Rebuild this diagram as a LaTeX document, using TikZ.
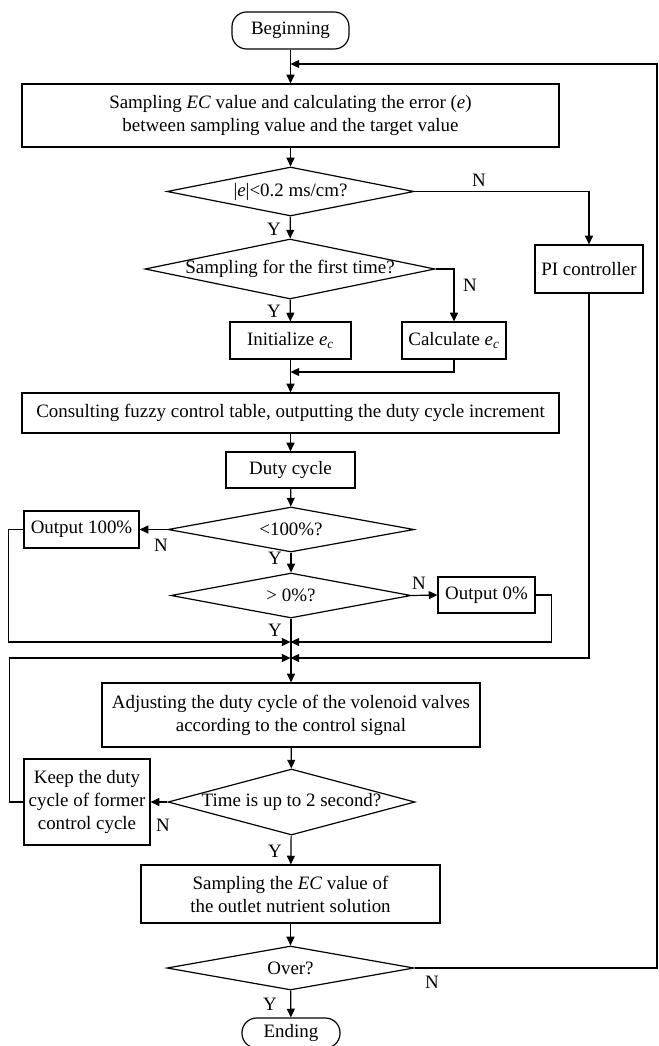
\documentclass[tikz,border=0pt]{standalone}
\usepackage{fontspec}
\setmainfont{Liberation Serif}
\usetikzlibrary{shapes.geometric,arrows.meta}

\tikzset{
  arr/.style={-{Triangle[length=6.5pt,width=6pt]}},
  proc/.style={draw,rectangle,inner sep=0pt,align=center},
  decision/.style={draw,diamond,inner sep=0pt,aspect=3},
  terminal/.style={draw,rectangle,rounded corners=11pt,inner sep=0pt},
  yn/.style={inner sep=0pt}
}
\newcommand{\nowidth}[1]{\makebox[0pt]{#1}}

\begin{document}
\begin{tikzpicture}[x=0.75pt,y=-0.75pt,line width=0.9pt,
  font=\fontsize{14.2}{17.25}\selectfont]
  \useasboundingbox (0,0) rectangle (659,1046);

  % main column
  \node[terminal,minimum width=87.75pt,minimum height=27.75pt] (begin) at (290.5,30.5) {Beginning};
  \node[proc,minimum width=402.75pt,minimum height=47.25pt] (sample) at (290.5,115.5)
    {Sampling \textit{EC} value and calculating the error (\textit{e})\\between sampling value and the target value};
  \node[decision,minimum width=185.25pt,minimum height=36.75pt] (err) at (290.5,191.5)
    {\nowidth{|\textit{e}|<0.2 ms/cm?}};
  \node[decision,minimum width=217.5pt,minimum height=45pt] (first) at (290,269)
    {\nowidth{Sampling for the first time?}};
  \node[proc,minimum width=81pt,minimum height=36pt] (pi) at (589,269) {PI controller};
  \node[proc,minimum width=90.75pt,minimum height=27.75pt] (init) at (290.5,340.5)
    {Initialize \textit{e}\textsubscript{\textit{c}}};
  \node[proc,minimum width=78pt,minimum height=27.75pt] (calc) at (454,340.5)
    {Calculate \textit{e}\textsubscript{\textit{c}}};
  \node[proc,minimum width=402.75pt,minimum height=30pt] (fuzzy) at (290.5,413)
    {Consulting fuzzy control table, outputting the duty cycle increment};
  \node[proc,minimum width=96.75pt,minimum height=27pt] (duty) at (290.5,470) {Duty cycle};
  \node[decision,minimum width=184.5pt,minimum height=33.75pt] (full) at (291,529.5) {\nowidth{<100\%?}};
  \node[proc,minimum width=86.25pt,minimum height=27.75pt] (out100) at (81.5,529.5) {Output 100\%};
  \node[decision,minimum width=180pt,minimum height=33.75pt] (zero) at (291,595.5) {\nowidth{> 0\%?}};
  \node[proc,minimum width=72.75pt,minimum height=27pt] (out0) at (486.5,595) {Output 0\%};
  \node[proc,minimum width=283.5pt,minimum height=48pt] (adjust) at (291,715)
    {Adjusting the duty cycle of the volenoid valves\\according to the control signal};
  \node[decision,minimum width=185.25pt,minimum height=49.5pt] (time) at (291.5,802)
    {\nowidth{Time is up to 2 second?}};
  \node[proc,minimum width=94.5pt,minimum height=64.5pt] (keep) at (87,802)
    {Keep the duty\\cycle of former\\control cycle};
  \node[proc,minimum width=224.25pt,minimum height=43.5pt] (sampec) at (290.5,894)
    {Sampling the \textit{EC} value of\\the outlet nutrient solution};
  \node[decision,minimum width=185.25pt,minimum height=33pt] (over) at (290.5,968) {\nowidth{Over?}};
  \node[terminal,minimum width=73.5pt,minimum height=22.5pt] (ending) at (291,1033) {Ending};

  % junction points
  \coordinate (fb) at (290.5,64);
  \coordinate (rtop) at (657,64);
  \coordinate (m0) at (290.5,372);
  \coordinate (m1) at (290.5,642);
  \coordinate (m2) at (290.5,658);

  % connectors
  \draw[arr] (begin) -- (sample);
  \draw[arr] (over.east) -| (rtop) -- (fb);
  \draw[arr] (sample) -- (err);
  \draw[arr] (err.east) -| (pi.north);
  \draw[arr] (err) -- (first);
  \draw[arr] (first.east) -| (calc.north);
  \draw[arr] (first) -- (init);
  \draw[arr] (init) -- (fuzzy);
  \draw[arr] (calc.south) |- (m0);
  \draw[arr] (fuzzy) -- (duty);
  \draw[arr] (duty) -- (full);
  \draw[arr] (full.west) -- (out100.east);
  \draw[arr] (full) -- (zero);
  \draw[arr] (zero.east) -- (out0.west);
  \draw[arr] (zero.south) -- (adjust.north);
  \draw[arr] (out100.west) -- ++(-15,0) |- (m1);
  \draw[arr] (out0.east) -- ++(16,0) |- (m1);
  \draw[arr] (pi.south) |- (m2);
  \draw[arr] (keep.west) -- ++(-14,0) |- (m2);
  \draw[arr] (adjust) -- (time);
  \draw[arr] (time.west) -- (keep.east);
  \draw[arr] (time) -- (sampec);
  \draw[arr] (sampec) -- (over);
  \draw[arr] (over) -- (ending);

  % Y / N labels
  \node[yn] (n1) at (479,180) {N};
  \node[yn] (y1) at (274,229) {Y};
  \node[yn] (n2) at (470,285) {N};
  \node[yn] (y2) at (274,311) {Y};
  \node[yn] (n3) at (161,545) {N};
  \node[yn] (y3) at (275,558) {Y};
  \node[yn] (n4) at (419,583) {N};
  \node[yn] (y4) at (275,630) {Y};
  \node[yn] (n5) at (163,825) {N};
  \node[yn] (y5) at (275,851) {Y};
  \node[yn] (n6) at (432,982) {N};
  \node[yn] (y6) at (270,1004) {Y};
\end{tikzpicture}
\end{document}
